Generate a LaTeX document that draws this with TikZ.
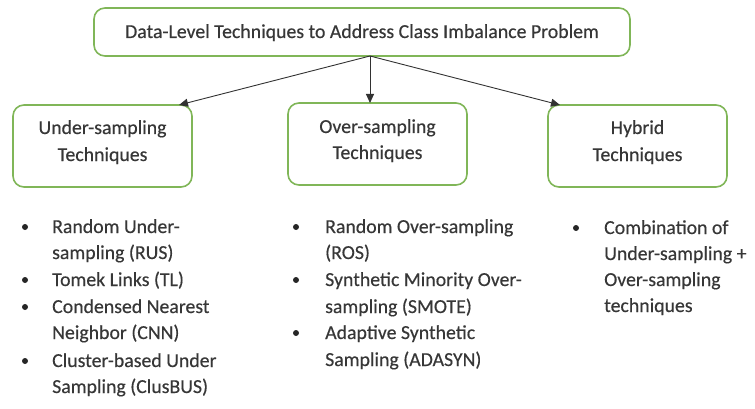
\documentclass[tikz,border=0pt]{standalone}
\usepackage{fontspec}
\setmainfont{Carlito}[FakeBold=0.35]
\usetikzlibrary{arrows.meta}
\definecolor{boxgreen}{RGB}{128,182,88}
\definecolor{txt}{RGB}{55,55,55}
\definecolor{arr}{RGB}{50,50,50}
\tikzset{
  catbox/.style={draw=boxgreen,line width=1.6pt,rounded corners=11pt,fill=white,inner sep=0pt},
  boxtxt/.style={font=\fontsize{19.8}{24}\selectfont,text=txt,inner sep=0pt,anchor=base},
  itemtxt/.style={font=\fontsize{19.8}{24}\selectfont,text=txt,inner sep=0pt,anchor=base west},
  conn/.style={draw=arr,line width=0.9pt,-{Triangle[length=9pt,width=8pt]}},
  dot/.style={circle,fill=black!85,inner sep=0pt,minimum size=6pt}
}
\begin{document}
\begin{tikzpicture}[x=1pt,y=-1pt]
\useasboundingbox (0,0) rectangle (755,409);
% boxes
\node[catbox,minimum width=536pt,minimum height=48pt] (top) at (362,32) {};
\node[boxtxt] (toptxt) at (362,38) {Data-Level Techniques to Address Class Imbalance Problem};
\node[catbox,minimum width=179pt,minimum height=82pt] (under) at (102.5,146) {};
\node[boxtxt] (u1) at (102.5,134) {Under-sampling};
\node[boxtxt] (u2) at (102.5,161) {Techniques};
\node[catbox,minimum width=179pt,minimum height=82pt] (over) at (377.5,144) {};
\node[boxtxt] (o1) at (377.5,133) {Over-sampling};
\node[boxtxt] (o2) at (377.5,159) {Techniques};
\node[catbox,minimum width=179pt,minimum height=82pt] (hyb) at (637.5,146) {};
\node[boxtxt] (h1) at (637.5,134) {Hybrid};
\node[boxtxt] (h2) at (637.5,161) {Techniques};
% connectors
\coordinate (src) at (370,56);
\coordinate (utip) at (179,105);
\coordinate (otip) at (370,103);
\coordinate (htip) at (560,105);
\draw[conn] (src) -- (utip);
\draw[conn] (src) -- (otip);
\draw[conn] (src) -- (htip);
% left column
\node[dot] (bl1) at (25,227) {};
\node[itemtxt] (l1a) at (52,233) {Random Under-};
\node[itemtxt] (l1b) at (52,259) {sampling (RUS)};
\node[dot] (bl2) at (25,280) {};
\node[itemtxt] (l2a) at (52,286) {Tomek Links (TL)};
\node[dot] (bl3) at (25,307) {};
\node[itemtxt] (l3a) at (52,313) {Condensed Nearest};
\node[itemtxt] (l3b) at (52,339) {Neighbor (CNN)};
\node[dot] (bl4) at (25,361) {};
\node[itemtxt] (l4a) at (52,367) {Cluster-based Under};
\node[itemtxt] (l4b) at (52,393) {Sampling (ClusBUS)};
% middle column
\node[dot] (bm1) at (296,227) {};
\node[itemtxt] (m1a) at (325,233) {Random Over-sampling};
\node[itemtxt] (m1b) at (325,259) {(ROS)};
\node[dot] (bm2) at (296,280) {};
\node[itemtxt] (m2a) at (325,286) {Synthetic Minority Over-};
\node[itemtxt] (m2b) at (325,313) {sampling (SMOTE)};
\node[dot] (bm3) at (296,333) {};
\node[itemtxt] (m3a) at (325,339) {Adaptive Synthetic};
\node[itemtxt] (m3b) at (325,366) {Sampling (ADASYN)};
% right column
\node[dot] (br1) at (576,228) {};
\node[itemtxt] (r1a) at (604,234) {Combination of};
\node[itemtxt] (r1b) at (604,260) {Under-sampling +};
\node[itemtxt] (r1c) at (604,286) {Over-sampling};
\node[itemtxt] (r1d) at (604,312) {techniques};
\end{tikzpicture}
\end{document}
